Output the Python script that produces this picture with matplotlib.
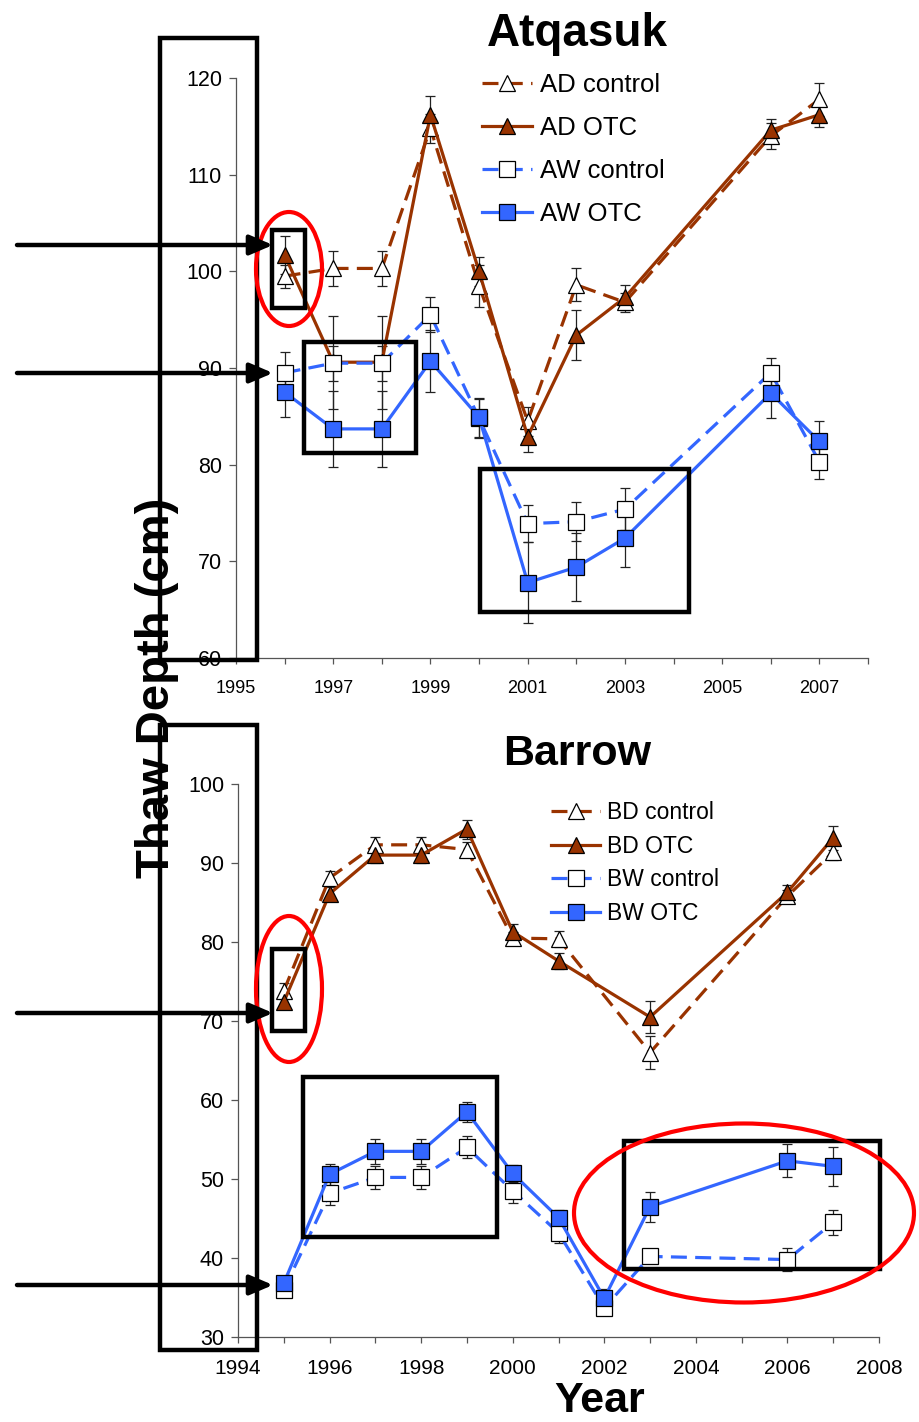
import matplotlib
matplotlib.use("Agg")
import matplotlib.pyplot as plt
from matplotlib.patches import Rectangle, Ellipse, FancyArrowPatch
from matplotlib.ticker import MultipleLocator

plt.rcParams['font.family'] = ['Liberation Sans', 'DejaVu Sans']

# ---- Atqasuk data (thaw depth, cm) ----
atq_years = [1996, 1997, 1998, 1999, 2000, 2001, 2002, 2003, 2006, 2007]
ad_control = [99.5, 100.3, 100.3, 114.8, 98.5, 84.5, 98.6, 96.8, 114.0, 117.8]
ad_control_err = [1.2, 1.8, 1.8, 1.5, 2.2, 1.5, 1.7, 1.0, 1.3, 1.7]
ad_otc = [101.7, 90.6, 90.6, 116.2, 100.0, 82.9, 93.4, 97.3, 114.6, 116.2]
ad_otc_err = [2.0, 4.8, 4.8, 1.9, 1.5, 1.6, 2.6, 1.3, 1.2, 1.3]
aw_control = [89.5, 90.5, 90.5, 95.5, 84.8, 73.9, 74.1, 75.4, 89.5, 80.3]
aw_control_err = [2.2, 1.8, 1.8, 1.8, 2.0, 1.9, 2.0, 2.2, 1.5, 1.8]
aw_otc = [87.5, 83.7, 83.7, 90.7, 84.9, 67.8, 69.4, 72.4, 87.4, 82.4]
aw_otc_err = [2.6, 3.9, 3.9, 3.2, 2.0, 4.2, 3.5, 3.0, 2.6, 2.1]

# ---- Barrow data (thaw depth, cm) ----
bd_years = [1995, 1996, 1997, 1998, 1999, 2000, 2001, 2003, 2006, 2007]
bd_control = [73.8, 88.1, 92.3, 92.3, 91.7, 80.5, 80.4, 66.0, 85.8, 91.4]
bd_control_err = [1.0, 0.9, 1.0, 1.0, 1.0, 0.8, 1.0, 2.1, 0.8, 1.0]
bd_otc = [72.4, 86.1, 91.0, 91.0, 94.3, 81.3, 77.6, 70.5, 86.3, 93.2]
bd_otc_err = [0.8, 0.8, 1.0, 1.0, 1.2, 1.0, 1.0, 2.0, 0.9, 1.5]
bw_years = [1995, 1996, 1997, 1998, 1999, 2000, 2001, 2002, 2003, 2006, 2007]
bw_control = [36.0, 48.2, 50.2, 50.2, 54.0, 48.5, 43.2, 33.7, 40.2, 39.8, 44.5]
bw_control_err = [0.7, 1.5, 1.5, 1.5, 1.4, 1.5, 1.3, 0.6, 0.8, 1.5, 1.6]
bw_otc = [36.8, 50.6, 53.5, 53.5, 58.5, 50.7, 45.1, 34.9, 46.5, 52.3, 51.6]
bw_otc_err = [0.6, 1.3, 1.6, 1.6, 1.3, 1.1, 1.0, 1.2, 1.9, 2.1, 2.5]

BROWN = '#993300'
BLUE = '#3366ff'
W, H = 919, 1422

fig = plt.figure(figsize=(W / 100, H / 100), dpi=100)


def fx(x):
    return x / W


def fy(y):
    return 1 - y / H


def style_axes(ax, tick_fs_x, tick_fs_y):
    for s in ['top', 'right']:
        ax.spines[s].set_visible(False)
    for s in ['left', 'bottom']:
        ax.spines[s].set_color('#555555')
        ax.spines[s].set_linewidth(0.9)
    ax.tick_params(axis='both', which='both', direction='out', color='#555555', width=0.9)
    ax.tick_params(axis='x', which='major', length=4, pad=12, labelsize=tick_fs_x)
    ax.tick_params(axis='x', which='minor', length=4)
    ax.tick_params(axis='y', which='major', length=5, pad=5, labelsize=tick_fs_y)
    ax.patch.set_alpha(0)


def draw_series(ax, x, y, err, color, marker, filled, dashed, label):
    ax.errorbar(x, y, yerr=err, fmt='none', ecolor='#222222', elinewidth=0.9,
                capsize=3.5, capthick=0.9, zorder=2)
    ln, = ax.plot(x, y, color=color, lw=2.3, marker=marker, markersize=11.5,
                  markerfacecolor=color if filled else 'white',
                  markeredgecolor='black', markeredgewidth=0.9,
                  label=label, zorder=3)
    if dashed:
        ln.set_dashes((5, 2.6))
    return ln


# ---------------- Atqasuk ----------------
ax1 = fig.add_axes([fx(236), fy(658), fx(868 - 236), (658 - 78) / H])
h1 = [
    draw_series(ax1, atq_years, ad_control, ad_control_err, BROWN, '^', False, True, 'AD control'),
    draw_series(ax1, atq_years, ad_otc, ad_otc_err, BROWN, '^', True, False, 'AD OTC'),
    draw_series(ax1, atq_years, aw_control, aw_control_err, BLUE, 's', False, True, 'AW control'),
    draw_series(ax1, atq_years, aw_otc, aw_otc_err, BLUE, 's', True, False, 'AW OTC'),
]
ax1.set_xlim(1995, 2008)
ax1.set_ylim(60, 120)
ax1.set_xticks(range(1995, 2008, 2))
ax1.xaxis.set_minor_locator(MultipleLocator(1))
ax1.set_yticks(range(60, 121, 10))
style_axes(ax1, 13, 15.5)
ax1.legend(handles=h1, loc='upper left', bbox_to_anchor=(fx(482), fy(73)),
           bbox_transform=fig.transFigure, frameon=False, fontsize=18.5,
           handlelength=1.95, handletextpad=0.3, labelspacing=0.74,
           borderpad=0, borderaxespad=0)
fig.text(fx(577), fy(46), 'Atqasuk', ha='center', va='baseline',
         fontsize=33, fontweight='bold')

# ---------------- Barrow ----------------
ax2 = fig.add_axes([fx(238), fy(1337), fx(879 - 238), (1337 - 784) / H])
h2 = [
    draw_series(ax2, bd_years, bd_control, bd_control_err, BROWN, '^', False, True, 'BD control'),
    draw_series(ax2, bd_years, bd_otc, bd_otc_err, BROWN, '^', True, False, 'BD OTC'),
    draw_series(ax2, bw_years, bw_control, bw_control_err, BLUE, 's', False, True, 'BW control'),
    draw_series(ax2, bw_years, bw_otc, bw_otc_err, BLUE, 's', True, False, 'BW OTC'),
]
ax2.set_xlim(1994, 2008)
ax2.set_ylim(30, 100)
ax2.set_xticks(range(1994, 2009, 2))
ax2.xaxis.set_minor_locator(MultipleLocator(1))
ax2.set_yticks(range(30, 101, 10))
style_axes(ax2, 15, 15.5)
ax2.legend(handles=h2, loc='upper left', bbox_to_anchor=(fx(551), fy(801)),
           bbox_transform=fig.transFigure, frameon=False, fontsize=16.5,
           handlelength=2.15, handletextpad=0.3, labelspacing=0.46,
           borderpad=0, borderaxespad=0)
fig.text(fx(577), fy(765), 'Barrow', ha='center', va='baseline',
         fontsize=31, fontweight='bold')

# ---------------- axis titles ----------------
fig.text(fx(157), fy(688), 'Thaw Depth (cm)', rotation=90, ha='center', va='center',
         fontsize=34, fontweight='bold', zorder=10)
fig.text(fx(600), fy(1421), 'Year', ha='center', va='bottom',
         fontsize=31, fontweight='bold')


# ---------------- annotation shapes (figure pixels) ----------------
def box(x0, y0, x1, y1):
    fig.add_artist(Rectangle((fx(x0), fy(y1)), (x1 - x0) / W, (y1 - y0) / H,
                             transform=fig.transFigure, fill=False,
                             ec='black', lw=3.2, zorder=8))


def oval(cx, cy, w, h):
    fig.add_artist(Ellipse((fx(cx), fy(cy)), w / W, h / H,
                           transform=fig.transFigure, fill=False,
                           ec='#ff0000', lw=3.0, zorder=8))


def arrow(y):
    fig.add_artist(FancyArrowPatch((fx(17), fy(y)), (fx(273), fy(y)),
                                   transform=fig.transFigure,
                                   arrowstyle='-|>,head_length=0.7,head_width=0.3',
                                   mutation_scale=20, lw=3.2, color='black',
                                   shrinkA=0, shrinkB=0, zorder=8))


box(160, 38, 257, 660)
box(272, 230, 305, 308)
box(304, 342, 416, 453)
box(480, 469, 689, 612)
oval(289, 269, 66, 114)
arrow(245)
arrow(373)

box(160, 725, 257, 1350)
box(272, 949, 305, 1031)
box(303, 1077, 497, 1237)
box(624, 1141, 880, 1269)
oval(289, 989, 66, 146)
oval(744, 1213, 340, 179)
arrow(1013)
arrow(1285)

fig.savefig('out.png', dpi=100)
